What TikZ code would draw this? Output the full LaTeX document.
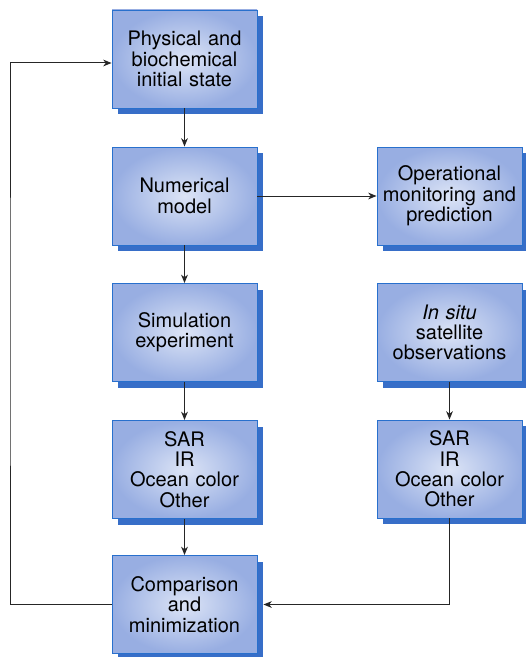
\documentclass[tikz,border=0pt]{standalone}
\usepackage{fontspec}
\setmainfont{TeX Gyre Heros}
\usepackage{tikz}
\usetikzlibrary{arrows.meta,positioning,shadows}
\definecolor{boxedge}{RGB}{40,112,205}
\definecolor{boxouter}{RGB}{152,174,226}
\definecolor{boxinner}{RGB}{220,228,246}
\definecolor{boxshade}{RGB}{55,110,200}
\tikzstyle{stage} = [rectangle, draw=boxedge, line width=0.5pt, shading=radial, inner color=boxinner, outer color=boxouter, minimum width=87pt, minimum height=58.8pt, inner sep=1pt, text width=84pt, align=center, font=\fontsize{12}{12.2}\selectfont, drop shadow={shadow xshift=3.6pt, shadow yshift=-3.6pt, fill=boxshade, opacity=1}]
\tikzstyle{arrow} = [draw=black!85, line width=0.6pt, -{Stealth[length=5pt, width=4pt, inset=1.5pt]}]

\begin{document}
\begin{tikzpicture}[x=0.6pt, y=-0.6pt]
		\useasboundingbox (0,0) rectangle (526,657);
		\coordinate (initstate) at (184.5,59);
		\coordinate (nummodel) at (184.5,196);
		\coordinate (simexp) at (184.5,332.5);
		\coordinate (sensorsL) at (184.5,469.5);
		\coordinate (compare) at (184.5,604.5);
		\coordinate (operational) at (449.5,196);
		\coordinate (insitu) at (449.5,332.5);
		\coordinate (sensorsR) at (449.5,469);
		\coordinate (loopleft) at (10,330);
		% Model chain
		\begin{scope}[every node/.style={stage}]
		\node[name=initstate] at (initstate) {Physical and\\biochemical\\initial state};
		\node[name=nummodel] at (nummodel) {Numerical\\model};
		\node[name=simexp] at (simexp) {Simulation\\experiment};
		\node[name=sensorsL] at (sensorsL) {SAR\\IR\\Ocean color\\Other};
		\node[name=compare] at (compare) {Comparison\\and\\minimization};
		\end{scope}
		% Observations and output
		\begin{scope}[every node/.style={stage}]
		\node[name=operational] at (operational) {Operational\\monitoring and\\prediction};
		\node[name=insitu] at (insitu) {\textit{In situ}\\satellite\\observations};
		\node[name=sensorsR] at (sensorsR) {SAR\\IR\\Ocean color\\Other};
		\end{scope}
		\draw [arrow] (initstate)--(nummodel);
		\draw [arrow] (nummodel)--(operational);
		\draw [arrow] (nummodel)--(simexp);
		\draw [arrow] (simexp)--(sensorsL);
		\draw [arrow] (sensorsL)--(compare);
		\draw [arrow] (insitu)--(sensorsR);
		\draw [arrow] (sensorsR) |- ([xshift=3.6pt]compare.east);
		% feedback loop
		\draw [arrow] (compare.west) -| (loopleft) |- ([yshift=-2.4pt]initstate.west);
\end{tikzpicture}
\end{document}
